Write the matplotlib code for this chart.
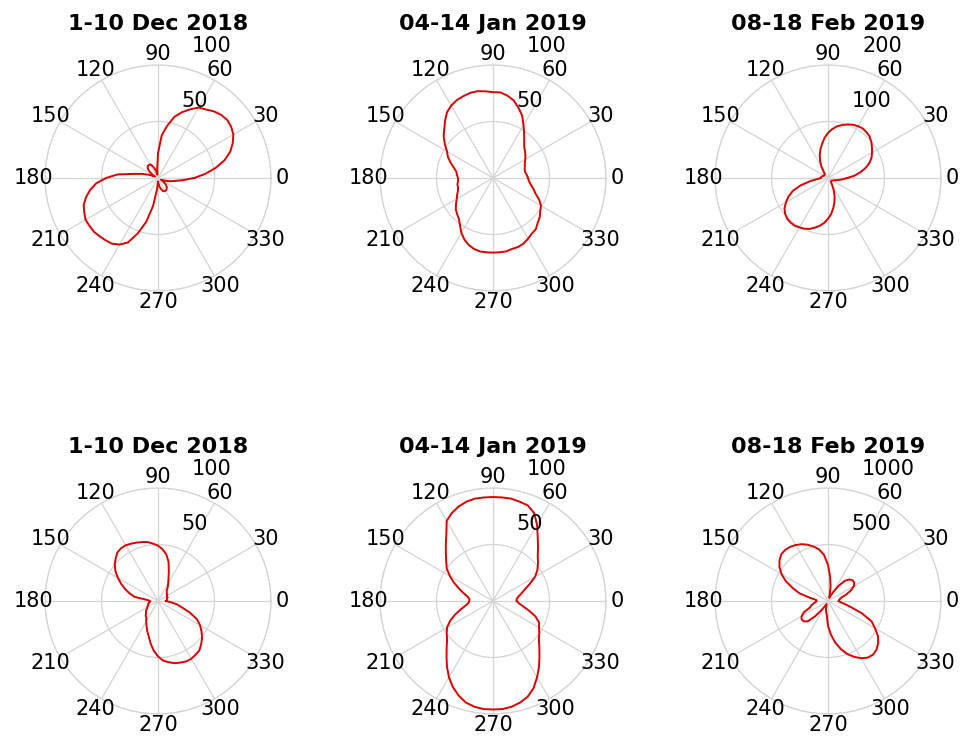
import numpy as np
import matplotlib
matplotlib.use('Agg')
import matplotlib.pyplot as plt

ANGLES = list(range(0, 360, 5))

TITLES = ['1-10 Dec 2018', '04-14 Jan 2019', '08-18 Feb 2019',
          '1-10 Dec 2018', '04-14 Jan 2019', '08-18 Feb 2019']
R_MAX = [100, 100, 200, 100, 100, 1000]
RING_LABELS = [('50', '100'), ('50', '100'), ('100', '200'),
               ('50', '100'), ('50', '100'), ('500', '1000')]

r_dec_top = [32, 42, 52, 61, 68, 73, 77, 79, 80, 79, 77, 74,
             72, 67, 62, 56, 47, 38, 22, 8, 3, 6, 9, 12,
             14, 14, 14, 13, 11, 8, 5, 3, 8, 14, 21, 36,
             46, 55, 61, 66, 70, 72, 74, 74, 74, 73, 72, 71,
             68, 63, 52, 40, 25, 10, 3, 5, 8, 10, 12, 13,
             13, 13, 12, 11, 9, 6, 3, 4, 7, 11, 15, 22]
r_jan_top = [31, 30, 29, 29, 30, 31, 33, 35, 37, 39, 43, 48,
             54, 61, 66, 71, 74, 76, 76, 77, 78, 78, 77, 76,
             74, 71, 66, 61, 57, 52, 47, 44, 40, 36, 33, 32,
             31, 31, 32, 32, 33, 35, 37, 40, 43, 45, 47, 51,
             56, 60, 63, 65, 66, 66, 66, 66, 66, 65, 65, 64,
             62, 60, 59, 56, 54, 51, 49, 45, 40, 37, 34, 32]
r_feb_top = [34, 47, 58, 69, 78, 85, 90, 95, 100, 104, 106, 107,
             106, 104, 101, 97, 93, 87, 80, 71, 61, 52, 43, 33,
             23, 13, 9, 8, 8, 8, 8, 9, 10, 11, 12, 12,
             13, 18, 32, 50, 66, 77, 86, 94, 99, 102, 103, 103,
             101, 99, 96, 91, 86, 80, 72, 64, 54, 44, 34, 24,
             15, 10, 8, 8, 8, 8, 9, 10, 12, 15, 20, 26]
r_dec_bot = [7, 8, 8, 8, 9, 9, 9, 10, 10, 11, 12, 15,
             18, 22, 28, 36, 42, 46, 49, 51, 53, 54, 55, 56,
             57, 57, 56, 53, 50, 46, 41, 36, 31, 26, 21, 9,
             7, 7, 8, 9, 9, 10, 11, 12, 14, 15, 17, 18,
             21, 24, 28, 32, 38, 44, 49, 53, 55, 57, 58, 59,
             59, 58, 57, 54, 51, 47, 43, 38, 30, 22, 17, 11]
r_jan_bot = [21, 21, 23, 26, 30, 36, 43, 48, 52, 56, 62, 69,
             78, 86, 90, 91, 92, 92, 92, 92, 92, 91, 89, 86,
             82, 72, 65, 59, 54, 50, 44, 38, 32, 27, 23, 21,
             21, 22, 25, 30, 36, 42, 47, 50, 53, 58, 64, 71,
             78, 84, 89, 93, 95, 96, 96, 96, 95, 93, 90, 85,
             78, 71, 64, 58, 53, 50, 47, 45, 40, 33, 27, 23]
r_feb_bot = [95, 100, 108, 125, 175, 225, 265, 283, 285, 270, 235, 165,
             90, 40, 30, 60, 130, 215, 320, 410, 465, 500, 530, 555,
             572, 585, 590, 585, 560, 525, 475, 410, 330, 260, 160, 105,
             100, 110, 130, 155, 170, 235, 270, 285, 280, 255, 175, 95,
             45, 30, 40, 70, 95, 125, 220, 300, 375, 440, 500, 545,
             585, 612, 620, 608, 580, 540, 480, 425, 320, 210, 150, 110]

SERIES = [r_dec_top, r_jan_top, r_feb_top, r_dec_bot, r_jan_bot, r_feb_bot]


def main():
    fig = plt.figure(figsize=(9.6, 7.42), dpi=100)
    W, H = 960, 742
    rad = 113  # outer circle radius in pixels
    centers = [(158, 178), (493, 178), (828, 178),
               (158, 601), (493, 601), (828, 601)]
    grid_col = '#d4d4d4'

    theta = np.deg2rad(ANGLES + [ANGLES[0]])

    for k, (cx, cy) in enumerate(centers):
        rect = [(cx - rad) / W, (H - cy - rad) / H, 2 * rad / W, 2 * rad / H]
        ax = fig.add_axes(rect, projection='polar')
        rmax = R_MAX[k]

        ax.set_ylim(0, rmax)
        ax.set_xticks(np.deg2rad(np.arange(0, 360, 30)))
        ax.set_xticklabels([])
        ax.set_yticks([rmax / 2, rmax])
        ax.set_yticklabels([])
        ax.tick_params(length=0)
        ax.grid(color=grid_col, linewidth=0.9)
        ax.spines['polar'].set_color(grid_col)
        ax.spines['polar'].set_linewidth(0.9)

        r = SERIES[k] + [SERIES[k][0]]
        ax.plot(theta, r, color='#e00000', linewidth=1.4)

        # angle labels, MATLAB style
        for a in range(0, 360, 30):
            ax.text(np.deg2rad(a), 1.1 * rmax, str(a), ha='center',
                    va='center', fontsize=15)

        # ring labels
        inner, outer = RING_LABELS[k]
        ax.text(np.deg2rad(72.8), 0.71 * rmax, inner, ha='left',
                va='center', fontsize=15)
        ax.text(np.deg2rad(75.6), 1.21 * rmax, outer, ha='left',
                va='center', fontsize=15)

        ax.text(0.5, 1.18, TITLES[k], transform=ax.transAxes,
                ha='center', va='center', fontsize=16, fontweight='bold')

    fig.savefig('out.png', dpi=100)


if __name__ == '__main__':
    main()
